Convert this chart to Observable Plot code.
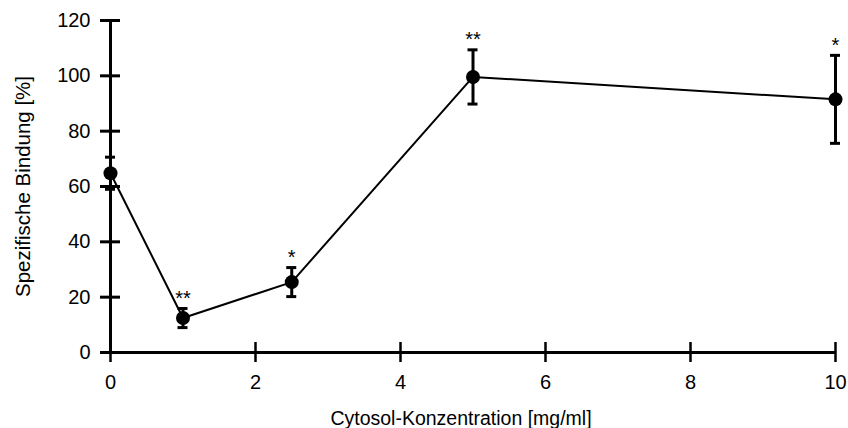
<!DOCTYPE html>
<html>
<head>
<meta charset="utf-8">
<script src="https://cdn.jsdelivr.net/npm/d3@7"></script>
<script src="https://cdn.jsdelivr.net/npm/@observablehq/plot@0.6"></script>
<style>
  html, body { margin: 0; padding: 0; background: #fff; }
</style>
</head>
<body>
<div id="chart"></div>
<script>
// Cytosol concentration (mg/ml) and specific binding (% ± error)
const concentration = [0, 1, 2.5, 5, 10];
const binding = [64.8, 12.45, 25.45, 99.6, 91.5];
const error = [5.8, 3.45, 5.25, 9.8, 15.9];
const significance = ["", "**", "*", "**", "*"];

const xTicks = [0, 2, 4, 6, 8, 10];
const yTicks = [0, 20, 40, 60, 80, 100, 120];

const xTitle = "Cytosol-Konzentration [mg/ml]";
const yTitle = "Spezifische Bindung [%]";

const rows = concentration.map((c, i) => ({
  c,
  v: binding[i],
  lo: binding[i] - error[i],
  hi: binding[i] + error[i],
  sig: significance[i]
}));

const chart = Plot.plot({
  width: 848,
  height: 428,
  marginLeft: 110,
  marginRight: 13,
  marginTop: 20,
  marginBottom: 76,
  style: {fontFamily: "'Liberation Sans', Arial, sans-serif", fontSize: "20px", color: "black", background: "white"},
  x: {domain: [d3.min(xTicks), d3.max(xTicks)]},
  y: {domain: [d3.min(yTicks), d3.max(yTicks)]},
  marks: [
    // axis lines
    Plot.ruleX([d3.min(xTicks)], {y1: () => d3.min(yTicks), y2: () => d3.max(yTicks), strokeWidth: 3}),
    Plot.ruleY([d3.min(yTicks)], {x1: () => d3.min(xTicks), x2: () => d3.max(xTicks), strokeWidth: 3}),
    // ticks crossing the axes
    Plot.ruleX(xTicks, {x: d => d, y1: () => 0, y2: () => 0, insetTop: -10, insetBottom: -10, strokeWidth: 2.5}),
    Plot.ruleY(yTicks, {y: d => d, x1: () => 0, x2: () => 0, insetLeft: -10, insetRight: -10, strokeWidth: 3}),
    Plot.axisX(xTicks, {tickSize: 0, tickPadding: 22, fontSize: 20, label: null}),
    Plot.axisY(yTicks, {tickSize: 0, tickPadding: 20, fontSize: 20, label: null}),
    // axis titles
    Plot.text([xTitle], {frameAnchor: "bottom", text: d => d, textAnchor: "middle", lineAnchor: "middle", dx: -12, dy: 66, fontSize: 19.5}),
    Plot.text([yTitle], {frameAnchor: "left", text: d => d, textAnchor: "middle", lineAnchor: "middle", rotate: -90, dx: -87, fontSize: 20.5}),
    // connecting line
    Plot.line(rows, {x: "c", y: "v", stroke: "black", strokeWidth: 2}),
    // error bars with caps
    Plot.ruleX(rows, {x: "c", y1: "lo", y2: "hi", strokeWidth: 3}),
    Plot.ruleY(rows, {y: "hi", x1: "c", x2: "c", insetLeft: -5, insetRight: -5, strokeWidth: 3}),
    Plot.ruleY(rows, {y: "lo", x1: "c", x2: "c", insetLeft: -5, insetRight: -5, strokeWidth: 3}),
    // means
    Plot.dot(rows, {x: "c", y: "v", r: 7, fill: "black", stroke: "none"}),
    // significance markers
    Plot.text(rows, {x: "c", y: "hi", text: "sig", dy: -10, fontSize: 20})
  ]
});

document.getElementById("chart").appendChild(chart);
</script>
</body>
</html>
